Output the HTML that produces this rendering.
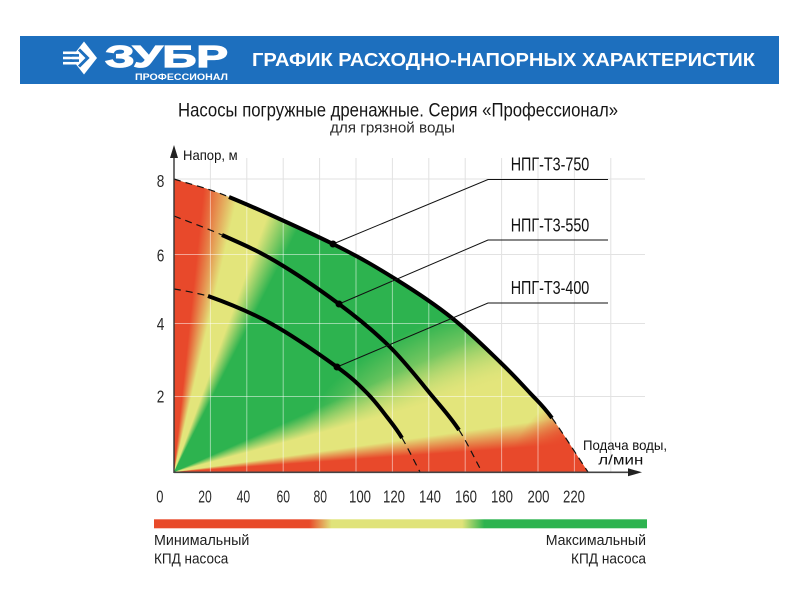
<!DOCTYPE html>
<html><head><meta charset="utf-8"><style>
html,body{margin:0;padding:0;background:#fff;}
#wrap{position:relative;width:800px;height:600px;overflow:hidden;background:#fff;}
#wrap svg{position:absolute;left:0;top:0;display:block;}
text{font-family:"Liberation Sans Narrow","Liberation Sans",sans-serif;}
#grad{position:absolute;left:0;top:0;width:800px;height:600px;
 clip-path:path('M174,472 L174,179 C192.3,185 202.5,186.2 229,197 C255.5,207.8 305,230.2 333,244 C361,257.8 377.2,267.7 397,280 C416.8,292.3 434.8,304.3 452,318 C469.2,331.7 487,349.5 500,362 C513,374.5 521.3,383.7 530,393 C538.7,402.3 542.3,404.8 552,418 C561.7,431.2 576,454 588,472 Z');
 background:
  radial-gradient(circle at 595px 480px, #e8492b 0px, #e8492b 48px, rgba(232,73,43,0) 88px),
  conic-gradient(from 0deg at 174px 472px, #e8492b 0deg, #e8492b 6deg, #e3e57b 13deg, #e3e57b 20deg, rgba(227,229,123,0) 27deg, rgba(227,229,123,0) 66deg, #e3e57b 75deg, #e3e57b 82deg, #e8492b 86deg, #e8492b 360deg),
  radial-gradient(ellipse 290px 190px at 565px 480px, #e3e57b 0%, #e3e57b 55%, rgba(227,229,123,0) 95%),
  #2db34f;
}
</style></head><body>
<div id="wrap">
<svg width="800" height="600" viewBox="0 0 800 600" xmlns="http://www.w3.org/2000/svg">
<rect width="800" height="600" fill="#fff"/>
<!-- Header -->
<rect x="20" y="36" width="759" height="48" fill="#1d6fbe"/>
<rect x="63" y="51.5" width="16" height="2.6" fill="#fff"/>
<rect x="63" y="56.7" width="16" height="2.6" fill="#fff"/>
<rect x="63" y="61.9" width="16" height="2.6" fill="#fff"/>
<polygon points="71,58 84,41.5 97,58 84,74.5" fill="#fff"/>
<rect x="70" y="54.1" width="9" height="2.6" fill="#1d6fbe"/>
<rect x="70" y="59.3" width="9" height="2.6" fill="#1d6fbe"/>
<polyline points="79,49.5 87.5,58 79,66.5" fill="none" stroke="#1d6fbe" stroke-width="3"/>
<text x="105" y="67" font-weight="bold" font-size="31" fill="#fff" stroke="#fff" stroke-width="1.2" textLength="123" lengthAdjust="spacingAndGlyphs" style="font-family:'Liberation Sans',sans-serif">ЗУБР</text>
<text x="135" y="80" font-weight="bold" font-size="9" fill="#fff" textLength="93" lengthAdjust="spacingAndGlyphs" style="font-family:'Liberation Sans',sans-serif">ПРОФЕССИОНАЛ</text>
<text x="252" y="66" font-weight="bold" font-size="18" fill="#fff" textLength="503" lengthAdjust="spacingAndGlyphs">ГРАФИК РАСХОДНО-НАПОРНЫХ ХАРАКТЕРИСТИК</text>

<!-- Titles -->
<text x="178" y="116.5" font-size="19.5" fill="#151515" textLength="440" lengthAdjust="spacingAndGlyphs">Насосы погружные дренажные. Серия «Профессионал»</text>
<text x="330" y="132.5" font-size="15" fill="#2a2a2a" textLength="125" lengthAdjust="spacingAndGlyphs">для грязной воды</text>

<!-- Gray grid -->
<g stroke="#e2e2e2" stroke-width="1">
 <line x1="210.4" y1="158" x2="210.4" y2="472"/>
 <line x1="246.8" y1="158" x2="246.8" y2="472"/>
 <line x1="283.2" y1="158" x2="283.2" y2="472"/>
 <line x1="319.6" y1="158" x2="319.6" y2="472"/>
 <line x1="356" y1="158" x2="356" y2="472"/>
 <line x1="392.4" y1="158" x2="392.4" y2="472"/>
 <line x1="428.8" y1="158" x2="428.8" y2="472"/>
 <line x1="465.2" y1="158" x2="465.2" y2="472"/>
 <line x1="501.6" y1="158" x2="501.6" y2="472"/>
 <line x1="538" y1="158" x2="538" y2="472"/>
 <line x1="574.4" y1="158" x2="574.4" y2="472"/>
 <line x1="610.8" y1="158" x2="610.8" y2="472"/>
 <line x1="174" y1="179" x2="645" y2="179"/>
 <line x1="174" y1="254.5" x2="645" y2="254.5"/>
 <line x1="174" y1="323.5" x2="645" y2="323.5"/>
 <line x1="174" y1="396.5" x2="645" y2="396.5"/>
</g>
</svg>

<div id="grad"></div>

<svg width="800" height="600" viewBox="0 0 800 600" xmlns="http://www.w3.org/2000/svg">
<defs>
<clipPath id="reg"><path d="M174,472 L174,179 C192.3,185 202.5,186.2 229,197 C255.5,207.8 305,230.2 333,244 C361,257.8 377.2,267.7 397,280 C416.8,292.3 434.8,304.3 452,318 C469.2,331.7 487,349.5 500,362 C513,374.5 521.3,383.7 530,393 C538.7,402.3 542.3,404.8 552,418 C561.7,431.2 576,454 588,472 Z"/></clipPath>
<linearGradient id="lg" x1="0" x2="1" y1="0" y2="0">
 <stop offset="0" stop-color="#e84a2a"/>
 <stop offset="0.315" stop-color="#e84a2a"/>
 <stop offset="0.36" stop-color="#e0e37a"/>
 <stop offset="0.625" stop-color="#e0e37a"/>
 <stop offset="0.67" stop-color="#2db34f"/>
 <stop offset="1" stop-color="#2db34f"/>
</linearGradient>
</defs>

<g clip-path="url(#reg)" stroke="#fff" stroke-opacity="0.5" stroke-width="1">
  <line x1="210.4" y1="158" x2="210.4" y2="472"/>
  <line x1="246.8" y1="158" x2="246.8" y2="472"/>
  <line x1="283.2" y1="158" x2="283.2" y2="472"/>
  <line x1="319.6" y1="158" x2="319.6" y2="472"/>
  <line x1="356" y1="158" x2="356" y2="472"/>
  <line x1="392.4" y1="158" x2="392.4" y2="472"/>
  <line x1="428.8" y1="158" x2="428.8" y2="472"/>
  <line x1="465.2" y1="158" x2="465.2" y2="472"/>
  <line x1="501.6" y1="158" x2="501.6" y2="472"/>
  <line x1="538" y1="158" x2="538" y2="472"/>
  <line x1="574.4" y1="158" x2="574.4" y2="472"/>
  <line x1="174" y1="179" x2="645" y2="179"/>
  <line x1="174" y1="254.5" x2="645" y2="254.5"/>
  <line x1="174" y1="323.5" x2="645" y2="323.5"/>
  <line x1="174" y1="396.5" x2="645" y2="396.5"/>
</g>

<!-- Curves dashed parts -->
<g fill="none" stroke="#111" stroke-width="1.2" stroke-dasharray="7 5">
 <path d="M174,179 C192.3,185 202.5,186.2 229,197"/>
 <path d="M552,418 C561.7,431.2 576,454 588,472"/>
 <path d="M174,216 C190,222.3 205.2,227.5 222,235"/>
 <path d="M459,430 C467.2,442.5 474.3,458 482,472"/>
 <path d="M174,289 Q190,291.5 208,296"/>
 <path d="M402,438 C407.5,447.2 414,460.7 420,472"/>
</g>
<!-- Curves solid parts -->
<g fill="none" stroke="#000" stroke-width="4">
 <path d="M229,197 C255.5,207.8 305,230.2 333,244 C361,257.8 377.2,267.7 397,280 C416.8,292.3 434.8,304.3 452,318 C469.2,331.7 487,349.5 500,362 C513,374.5 521.3,383.7 530,393 C538.7,402.3 542.3,404.8 552,418"/>
 <path d="M222,235 C238.8,242.5 255.5,249.5 275,261 C294.5,272.5 319.8,289.7 339,304 C358.2,318.3 374.3,331.5 390,347 C405.7,362.5 421.5,383.2 433,397 C444.5,410.8 450.8,417.5 459,430"/>
 <path d="M208,296 C224,301.7 248.5,311.2 270,323 C291.5,334.8 320.8,355.3 337,367 C353.2,378.7 358.7,384.7 367,393 C375.3,401.3 381.2,409.5 387,417 C392.8,424.5 396.5,428.8 402,438"/>
</g>

<!-- Leader lines -->
<g fill="none" stroke="#111" stroke-width="1">
 <polyline points="333,244 488,179.5 608,179.5"/>
 <polyline points="339,304 488,240 608,240"/>
 <polyline points="337,367 488,303 608,303"/>
</g>
<circle cx="333" cy="244" r="3.5" fill="#000"/>
<circle cx="339" cy="304" r="3.5" fill="#000"/>
<circle cx="337" cy="367" r="3.5" fill="#000"/>

<text x="510.7" y="170.7" font-size="18" fill="#111" textLength="78.6" lengthAdjust="spacingAndGlyphs">НПГ-Т3-750</text>
<text x="510.7" y="231.5" font-size="18" fill="#111" textLength="78.6" lengthAdjust="spacingAndGlyphs">НПГ-Т3-550</text>
<text x="510.7" y="294" font-size="18" fill="#111" textLength="78.6" lengthAdjust="spacingAndGlyphs">НПГ-Т3-400</text>

<!-- Axes -->
<line x1="174" y1="473" x2="174" y2="156" stroke="#333" stroke-width="1.4"/>
<polygon points="174,145 170,158 178,158" fill="#222"/>
<line x1="174" y1="472.3" x2="630" y2="472.3" stroke="#444" stroke-width="1.6"/>
<polygon points="642,472.3 628,468.3 628,476.3" fill="#222"/>

<text x="183" y="160" font-size="14" fill="#111" textLength="54.6" lengthAdjust="spacingAndGlyphs">Напор, м</text>
<text x="583" y="450" font-size="14" fill="#111" textLength="84" lengthAdjust="spacingAndGlyphs">Подача воды,</text>
<text x="598.3" y="464.3" font-size="14" fill="#111" textLength="45" lengthAdjust="spacingAndGlyphs">л/мин</text>

<!-- Y labels -->
<g font-size="17.5" fill="#2a2a2a">
 <text x="156.7" y="187" textLength="7.6" lengthAdjust="spacingAndGlyphs">8</text>
 <text x="156.7" y="261.7" textLength="7.6" lengthAdjust="spacingAndGlyphs">6</text>
 <text x="156.7" y="330" textLength="7.6" lengthAdjust="spacingAndGlyphs">4</text>
 <text x="156.7" y="402.7" textLength="7.6" lengthAdjust="spacingAndGlyphs">2</text>
</g>
<!-- X labels -->
<g font-size="17.5" fill="#2a2a2a">
 <text x="156.2" y="502.3" textLength="7.2" lengthAdjust="spacingAndGlyphs">0</text>
 <text x="198.3" y="502.3" textLength="13.5" lengthAdjust="spacingAndGlyphs">20</text>
 <text x="236.6" y="502.3" textLength="13.5" lengthAdjust="spacingAndGlyphs">40</text>
 <text x="276.5" y="502.3" textLength="13.5" lengthAdjust="spacingAndGlyphs">60</text>
 <text x="313.5" y="502.3" textLength="13.5" lengthAdjust="spacingAndGlyphs">80</text>
 <text x="349" y="502.3" textLength="22" lengthAdjust="spacingAndGlyphs">100</text>
 <text x="383" y="502.3" textLength="22" lengthAdjust="spacingAndGlyphs">120</text>
 <text x="419" y="502.3" textLength="22" lengthAdjust="spacingAndGlyphs">140</text>
 <text x="455" y="502.3" textLength="22" lengthAdjust="spacingAndGlyphs">160</text>
 <text x="491" y="502.3" textLength="22" lengthAdjust="spacingAndGlyphs">180</text>
 <text x="527.5" y="502.3" textLength="22" lengthAdjust="spacingAndGlyphs">200</text>
 <text x="563" y="502.3" textLength="22" lengthAdjust="spacingAndGlyphs">220</text>
</g>

<!-- Legend -->
<rect x="154" y="519.3" width="493" height="9" fill="url(#lg)"/>
<g font-size="15" fill="#1e1e1e">
 <text x="154" y="545" textLength="95.3" lengthAdjust="spacingAndGlyphs" style="font-family:'Liberation Sans',sans-serif">Минимальный</text>
 <text x="154" y="563.3" textLength="74.3" lengthAdjust="spacingAndGlyphs" style="font-family:'Liberation Sans',sans-serif">КПД насоса</text>
 <text x="545.7" y="545" textLength="100.3" lengthAdjust="spacingAndGlyphs" style="font-family:'Liberation Sans',sans-serif">Максимальный</text>
 <text x="571" y="563.3" textLength="75" lengthAdjust="spacingAndGlyphs" style="font-family:'Liberation Sans',sans-serif">КПД насоса</text>
</g>
</svg>
</div>
</body></html>
